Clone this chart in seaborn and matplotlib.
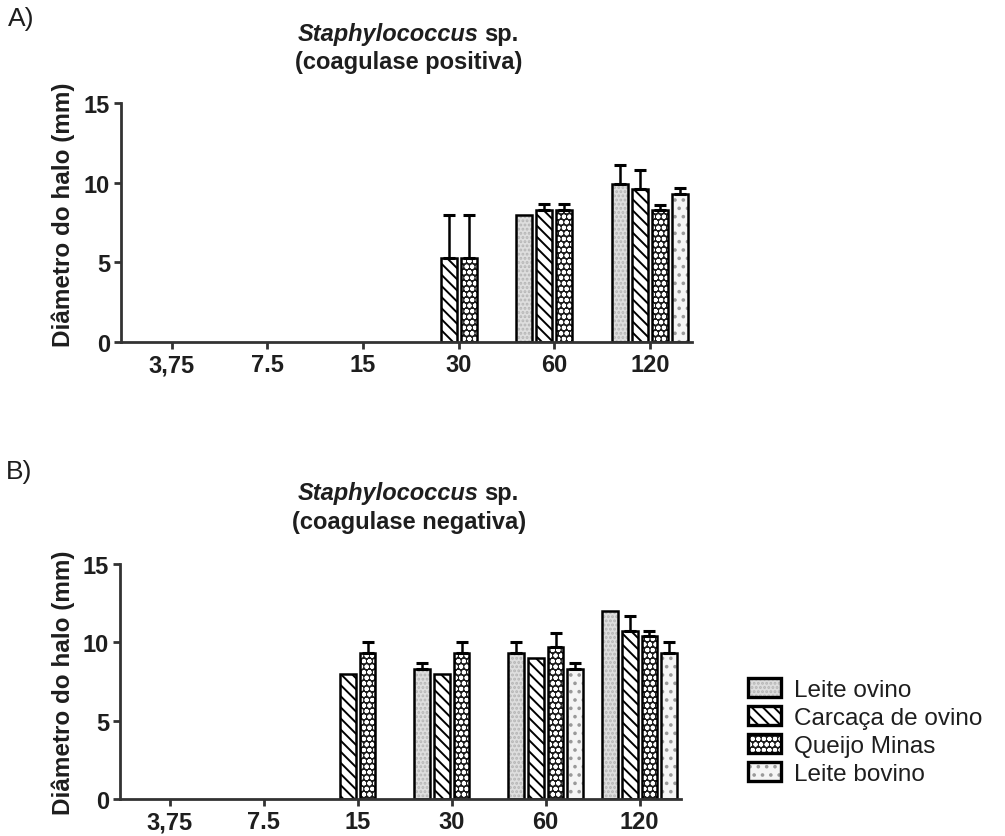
import numpy as np
import pandas as pd
import matplotlib
matplotlib.use("Agg")
import matplotlib.pyplot as plt
import seaborn as sns
from matplotlib.patches import Patch

sns.set_style("ticks")
plt.rcParams["font.family"] = ["Liberation Sans", "DejaVu Sans"]
plt.rcParams["hatch.linewidth"] = 1.4

nan = np.nan
concentrations = ["3,75", "7.5", "15", "30", "60", "120"]
sources = ["Leite ovino", "Carcaça de ovino", "Queijo Minas", "Leite bovino"]

# Panel A - coagulase positiva (mean halo diameter, mm) and upper error
pos_leite_ovino = [nan, nan, nan, nan, 8.0, 9.9]
pos_leite_ovino_err = [0, 0, 0, 0, 0.0, 1.2]
pos_carcaca = [nan, nan, nan, 5.3, 8.3, 9.6]
pos_carcaca_err = [0, 0, 0, 2.7, 0.35, 1.2]
pos_queijo = [nan, nan, nan, 5.3, 8.3, 8.3]
pos_queijo_err = [0, 0, 0, 2.7, 0.35, 0.3]
pos_leite_bovino = [nan, nan, nan, nan, nan, 9.3]
pos_leite_bovino_err = [0, 0, 0, 0, 0, 0.35]

# Panel B - coagulase negativa
neg_leite_ovino = [nan, nan, nan, 8.3, 9.3, 12.0]
neg_leite_ovino_err = [0, 0, 0, 0.35, 0.7, 0.0]
neg_carcaca = [nan, nan, 8.0, 8.0, 9.0, 10.7]
neg_carcaca_err = [0, 0, 0.0, 0.0, 0.0, 1.0]
neg_queijo = [nan, nan, 9.3, 9.3, 9.7, 10.4]
neg_queijo_err = [0, 0, 0.7, 0.7, 0.9, 0.3]
neg_leite_bovino = [nan, nan, nan, nan, 8.3, 9.3]
neg_leite_bovino_err = [0, 0, 0, 0, 0.35, 0.7]

panel_a_vals = [pos_leite_ovino, pos_carcaca, pos_queijo, pos_leite_bovino]
panel_a_errs = [pos_leite_ovino_err, pos_carcaca_err, pos_queijo_err, pos_leite_bovino_err]
panel_b_vals = [neg_leite_ovino, neg_carcaca, neg_queijo, neg_leite_bovino]
panel_b_errs = [neg_leite_ovino_err, neg_carcaca_err, neg_queijo_err, neg_leite_bovino_err]

PATTERNS = {
    "Leite ovino": dict(fc="#dedede", hc="#b5b5b5", hatch="...."),
    "Carcaça de ovino": dict(fc="white", hc="black", hatch="\\\\\\"),
    "Queijo Minas": dict(fc="#1c1c1c", hc="white", hatch="ooo"),
    "Leite bovino": dict(fc="#f5f5f5", hc="#9a9a9a", hatch=".."),
}

TXT = "#1e1e1e"
LW = 1.8


def to_long(vals):
    rows = []
    for s, series in zip(sources, vals):
        for c, v in zip(concentrations, series):
            if not np.isnan(v):
                rows.append({"conc": c, "source": s, "value": v})
    return pd.DataFrame(rows)


def draw_panel(ax, vals, errs):
    df = to_long(vals)
    common = dict(data=df, x="conc", y="value", hue="source", order=concentrations,
                  hue_order=sources, width=0.836, gap=0.2, errorbar=None, ax=ax,
                  legend=False)
    sns.barplot(**common, palette=["#cccccc"] * 4, linewidth=0)
    n_fill = len(ax.containers)
    for i, cont in enumerate(ax.containers[:n_fill]):
        p = PATTERNS[sources[i]]
        for bar in cont:
            bar.set_facecolor(p["fc"])
            bar.set_edgecolor(p["hc"])
            bar.set_hatch(p["hatch"])
            bar.set_linewidth(0)
    sns.barplot(**common, palette=["black"] * 4, fill=False, linewidth=LW)
    for i, cont in enumerate(ax.containers[:n_fill]):
        for bar in cont:
            xc = bar.get_x() + bar.get_width() / 2
            k = int(round(xc))
            h = bar.get_height()
            e = errs[i][k]
            if e > 0:
                ax.errorbar(xc, h, yerr=[[0], [e]], fmt="none", ecolor="black",
                            elinewidth=LW, capsize=4.5, capthick=2.2, zorder=5)
    ax.set_xlim(-0.53, 5.44)
    ax.set_ylim(0, 15)
    ax.set_yticks([0, 5, 10, 15])
    ax.set_xlabel("")
    ax.set_ylabel("Diâmetro do halo (mm)", fontsize=17.5, fontweight="bold", color=TXT)
    sns.despine(ax=ax)
    for sp in ("left", "bottom"):
        ax.spines[sp].set_linewidth(2.0)
        ax.spines[sp].set_color("#333333")
    ax.tick_params(axis="both", length=5, width=2.0, color="#333333",
                   labelsize=17, labelcolor=TXT, pad=3)
    for lab in ax.get_xticklabels() + ax.get_yticklabels():
        lab.set_fontweight("bold")


W, H = 1005, 837
fig = plt.figure(figsize=(W / 100, H / 100), dpi=100)

ax_a = fig.add_axes([121 / W, 1 - 343 / H, 571 / W, 239 / H])
draw_panel(ax_a, panel_a_vals, panel_a_errs)
ax_a.yaxis.set_label_coords(-0.08, 0.535)

ax_b = fig.add_axes([120 / W, 1 - 800 / H, 561 / W, 235 / H])
draw_panel(ax_b, panel_b_vals, panel_b_errs)
ax_b.yaxis.set_label_coords(-0.08, 0.5)


def title(y_top, subtitle):
    fig.text(479 / W, 1 - y_top / H, "Staphylococcus", ha="right", va="center",
             fontsize=17, fontweight="bold", style="italic", color=TXT)
    fig.text(484 / W, 1 - y_top / H, "sp.", ha="left", va="center",
             fontsize=17, fontweight="bold", color=TXT)
    fig.text(409 / W, 1 - (y_top + 28) / H, subtitle, ha="center", va="center",
             fontsize=17, fontweight="bold", color=TXT)


title(34, "(coagulase positiva)")
title(494, "(coagulase negativa)")

fig.text(8 / W, 1 - 19 / H, "A)", ha="left", va="center", fontsize=19, color=TXT)
fig.text(6 / W, 1 - 472 / H, "B)", ha="left", va="center", fontsize=19, color=TXT)

handles = []
for s in sources:
    p = PATTERNS[s]
    handles.append((Patch(facecolor=p["fc"], edgecolor=p["hc"], hatch=p["hatch"], linewidth=0),
                    Patch(fill=False, edgecolor="black", linewidth=2.4)))
fig.legend(handles, sources, loc="upper left", bbox_to_anchor=(748 / W, 1 - 679 / H),
           frameon=False, fontsize=17.5, handlelength=1.35, handleheight=0.8,
           handletextpad=0.55, labelspacing=0.22, borderpad=0, borderaxespad=0,
           labelcolor=TXT)

fig.savefig("out.png", dpi=100)
